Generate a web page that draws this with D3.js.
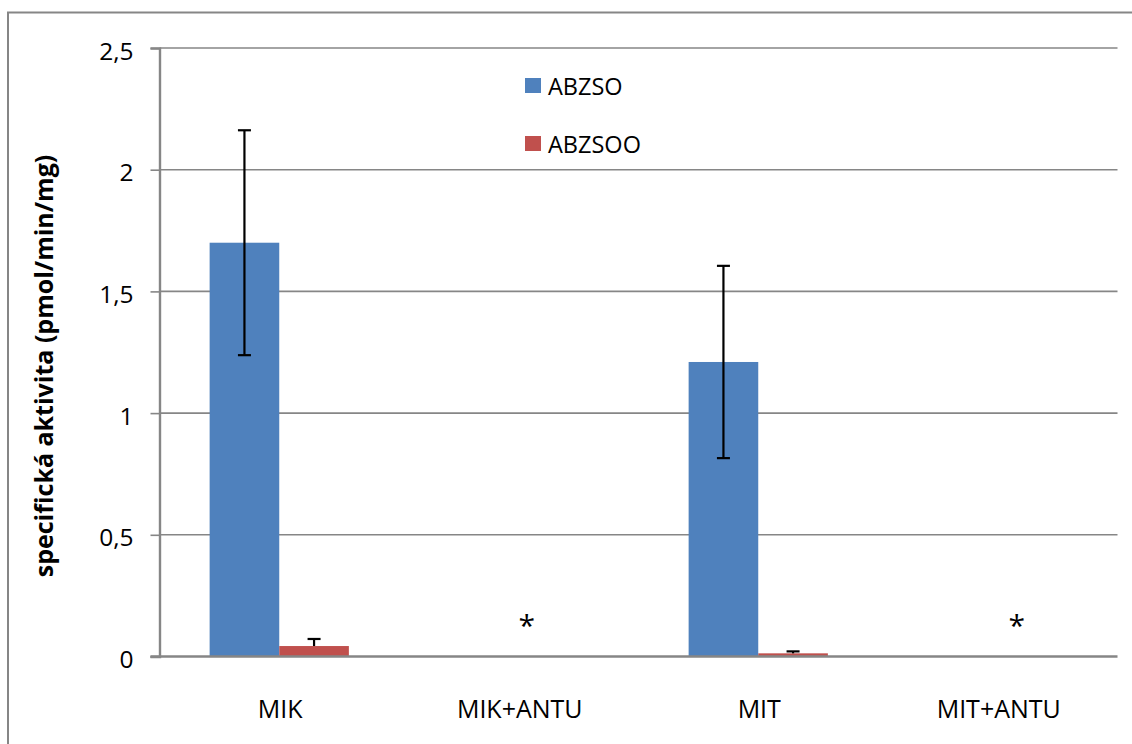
<!DOCTYPE html>
<html>
<head>
<meta charset="utf-8">
<script src="https://cdn.jsdelivr.net/npm/d3@7/dist/d3.min.js"></script>
<style>
  html, body { margin: 0; padding: 0; background: #fff; }
  svg { display: block; }
  text { font-family: "Open Sans", "Noto Sans", sans-serif; fill: #000; }
</style>
</head>
<body>
<svg id="chart" width="1132" height="744"></svg>
<script>
// Sample groups and measured series
const categories = ["MIK", "MIK+ANTU", "MIT", "MIT+ANTU"];
const seriesNames = ["ABZSO", "ABZSOO"];
const abzsoValues = [1.70, null, 1.21, null];
const abzsoErrors = [0.462, null, 0.395, null];
const abzsooValues = [0.043, null, 0.013, null];
const abzsooErrors = [0.029, null, 0.008, null];
const yTicks = [0, 0.5, 1, 1.5, 2, 2.5];
const yTickLabels = ["0", "0,5", "1", "1,5", "2", "2,5"];
const markedCategories = ["MIK+ANTU", "MIT+ANTU"];
const markText = "*";
const yTitle = "specifická aktivita (pmol/min/mg)";

const colors = { ABZSO: "#4F81BD", ABZSOO: "#C0504D" };
const axisGray = "#868686";

const svg = d3.select("#chart");

// outer chart frame
svg.append("rect")
  .attr("x", 8).attr("y", 12.5)
  .attr("width", 1300).attr("height", 900)
  .attr("fill", "none").attr("stroke", axisGray).attr("stroke-width", 2);

const plot = { left: 159.5, right: 1117.5, top: 48, bottom: 656.5 };

const x = d3.scaleBand().domain(categories).range([plot.left, plot.right]).padding(0);
const xInner = d3.scaleBand().domain(seriesNames).range([0, x.bandwidth()])
  .paddingInner(0).paddingOuter(0.72);
const y = d3.scaleLinear().domain([0, 2.5]).range([plot.bottom, plot.top]);

// horizontal gridlines
svg.append("g").selectAll("line").data(yTicks.filter(t => t > 0)).join("line")
  .attr("x1", plot.left).attr("x2", plot.right)
  .attr("y1", d => y(d)).attr("y2", d => y(d))
  .attr("stroke", axisGray).attr("stroke-width", 1.6);

// y axis with tick labels
const yAxis = d3.axisLeft(y).tickValues(yTicks)
  .tickFormat((d, i) => yTickLabels[i]).tickSize(9).tickPadding(17);
const gy = svg.append("g").attr("transform", `translate(${plot.left},0)`).call(yAxis);
gy.select(".domain").attr("stroke", axisGray).attr("stroke-width", 2.4);
gy.selectAll(".tick line").attr("stroke", axisGray).attr("stroke-width", 1.6);
gy.selectAll(".tick text")
  .attr("font-family", "'Open Sans', sans-serif")
  .attr("font-size", 24.5).attr("fill", "#000").attr("dy", "0.45em");

// bar rows
const rows = [];
categories.forEach((c, i) => {
  if (abzsoValues[i] != null) rows.push({ cat: c, s: "ABZSO", v: abzsoValues[i], e: abzsoErrors[i], both: true });
  if (abzsooValues[i] != null) rows.push({ cat: c, s: "ABZSOO", v: abzsooValues[i], e: abzsooErrors[i], both: false });
});

svg.append("g").selectAll("rect").data(rows).join("rect")
  .attr("x", d => x(d.cat) + xInner(d.s))
  .attr("width", xInner.bandwidth())
  .attr("y", d => y(d.v))
  .attr("height", d => y(0) - y(d.v))
  .attr("fill", d => colors[d.s]);

// x axis baseline
svg.append("line")
  .attr("x1", plot.left - 9).attr("x2", plot.right)
  .attr("y1", y(0)).attr("y2", y(0))
  .attr("stroke", axisGray).attr("stroke-width", 2.4);

// error bars (the small ABZSOO bars only show the upper whisker)
const eb = svg.append("g").attr("stroke", "#000").attr("stroke-width", 2.2);
rows.forEach(d => {
  const cx = x(d.cat) + xInner(d.s) + xInner.bandwidth() / 2;
  const hi = d.v + d.e;
  const lo = d.both ? d.v - d.e : d.v;
  eb.append("line").attr("x1", cx).attr("x2", cx).attr("y1", y(hi)).attr("y2", y(lo));
  eb.append("line").attr("x1", cx - 6.5).attr("x2", cx + 6.5).attr("y1", y(hi)).attr("y2", y(hi));
  if (d.both) {
    eb.append("line").attr("x1", cx - 6.5).attr("x2", cx + 6.5).attr("y1", y(lo)).attr("y2", y(lo));
  }
});

// category labels
svg.append("g").selectAll("text").data(categories).join("text")
  .attr("x", d => x(d) + x.bandwidth() / 2 + 1)
  .attr("y", 718)
  .attr("text-anchor", "middle")
  .attr("font-size", 25)
  .text(d => d);

// significance marks on the ANTU groups
svg.append("g").selectAll("text").data(markedCategories).join("text")
  .attr("x", (d, i) => x(d) + x.bandwidth() / 2 + (i === 0 ? 8 : 19))
  .attr("y", y(0.085))
  .attr("text-anchor", "middle")
  .attr("font-size", 30)
  .text(markText);

// legend
const legend = svg.append("g");
seriesNames.forEach((s, i) => {
  const gy0 = 78 + i * 58;
  legend.append("rect").attr("x", 525).attr("y", gy0).attr("width", 16).attr("height", 15)
    .attr("fill", colors[s]);
  legend.append("text").attr("x", 548).attr("y", gy0 + 17)
    .attr("font-size", 23.5).text(s);
});

// y axis title
svg.append("text")
  .attr("transform", `translate(53,${366}) rotate(-90)`)
  .attr("text-anchor", "middle")
  .attr("font-size", 25)
  .attr("font-weight", "bold")
  .text(yTitle);
</script>
</body>
</html>
